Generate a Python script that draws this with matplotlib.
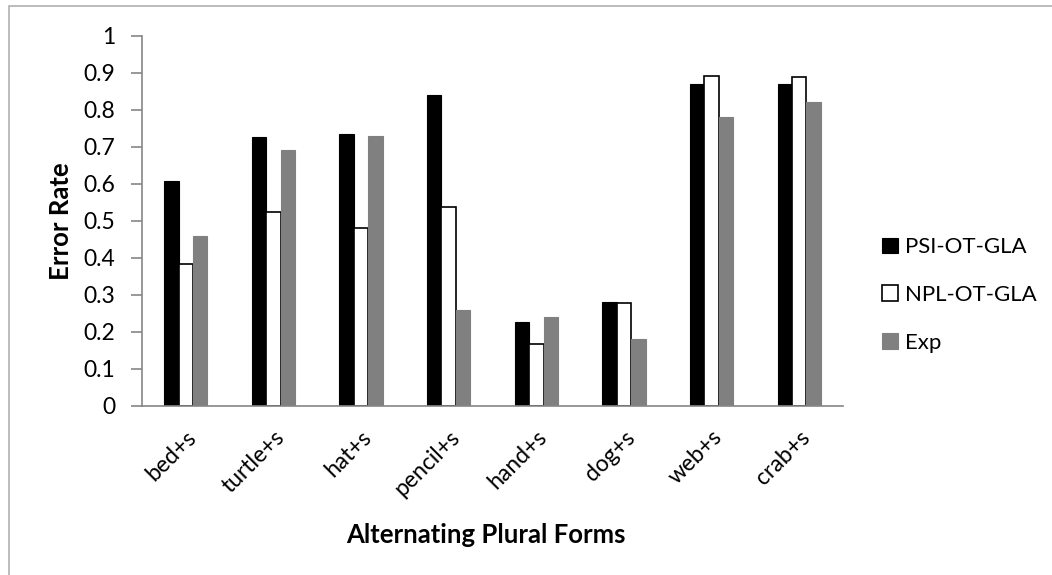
import numpy as np
import matplotlib.pyplot as plt
from matplotlib.patches import Rectangle

plt.rcParams['font.family'] = ['Lato', 'DejaVu Sans']

categories = ['bed+s', 'turtle+s', 'hat+s', 'pencil+s', 'hand+s', 'dog+s', 'web+s', 'crab+s']
psi = [0.607, 0.725, 0.733, 0.841, 0.226, 0.281, 0.869, 0.869]
npl = [0.384, 0.524, 0.481, 0.538, 0.166, 0.277, 0.891, 0.889]
exp = [0.459, 0.690, 0.730, 0.259, 0.241, 0.179, 0.779, 0.820]
yticks = [0, 0.1, 0.2, 0.3, 0.4, 0.5, 0.6, 0.7, 0.8, 0.9, 1]
ylabels = ['0', '0.1', '0.2', '0.3', '0.4', '0.5', '0.6', '0.7', '0.8', '0.9', '1']

fig = plt.figure(figsize=(10.52, 5.75), dpi=100)
# chart border
fig.patches.append(Rectangle((9/1052, -0.05), 1.1, 1 - 6/575 + 0.05, transform=fig.transFigure,
                             fill=False, edgecolor='#b0b0b0', linewidth=1.2))
ax = fig.add_axes([142/1052, 1 - 405.7/575, (843-142)/1052, (405.7-35.7)/575])

x = np.arange(len(categories))
w = 0.165
ax.bar(x - w, psi, w, color='black', edgecolor='black', linewidth=0.8, label='PSI-OT-GLA')
ax.bar(x, npl, w, color='white', edgecolor='black', linewidth=1.2, label='NPL-OT-GLA')
ax.bar(x + w, exp, w, color='#808080', edgecolor='#808080', linewidth=0.8, label='Exp')

ax.set_xlim(-0.5, len(categories) - 0.5)
ax.set_ylim(0, 1)
ax.set_yticks(yticks)
ax.set_yticklabels(ylabels, fontsize=16.5)
ax.set_xticks(x)
ax.set_xticklabels(categories, fontsize=16.5, rotation=45, ha='right', rotation_mode='anchor')
ax.tick_params(axis='x', length=0, pad=15)
ax.tick_params(axis='y', length=8, color='#868686', width=1.2, pad=11)
for s in ['top', 'right']:
    ax.spines[s].set_visible(False)
for s in ['left', 'bottom']:
    ax.spines[s].set_color('#868686')
    ax.spines[s].set_linewidth(1.2)

ax.set_ylabel('Error Rate', fontsize=18.5, fontweight='bold')
ax.yaxis.set_label_coords(-0.099, 0.5)
fig.text(486/1052, 1 - 535/575, 'Alternating Plural Forms', fontsize=18.5, fontweight='bold',
         ha='center', va='center')

ax.legend(loc='center left', bbox_to_anchor=(882/1052, 1 - 295/575), bbox_transform=fig.transFigure,
          frameon=False, fontsize=16, handlelength=0.7, handleheight=0.7, handletextpad=0.35,
          labelspacing=1.25, borderaxespad=0, borderpad=0)

fig.savefig('out.png', dpi=100)
